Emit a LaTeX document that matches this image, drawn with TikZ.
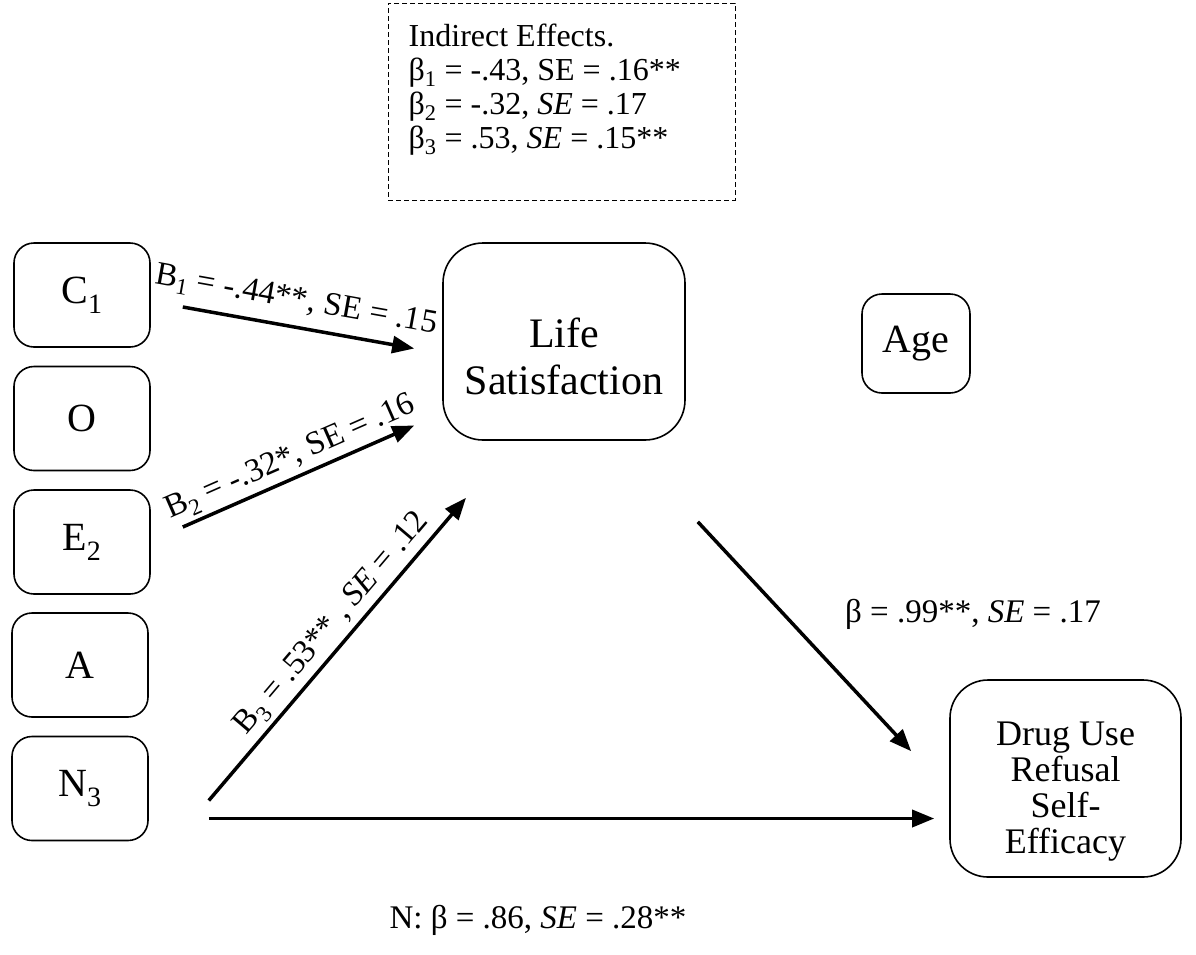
\documentclass[tikz,border=0pt]{standalone}
\usepackage{fontspec}
\setmainfont{Liberation Serif}
\usetikzlibrary{arrows.meta}
\begin{document}
\begin{tikzpicture}[x=1pt,y=-1pt,
  box/.style={draw, line width=1.6pt, align=center, inner sep=0pt, font=\fontsize{40}{44}\selectfont},
  smallbox/.style={box, rounded corners=20pt, minimum width=136pt, minimum height=104pt},
  boxtext/.style={align=center, inner sep=0pt},
  lab/.style={font=\fontsize{33}{36}\selectfont, inner sep=4pt},
  arr/.style={line width=3.5pt, -{Triangle[length=22pt,width=17pt]}}]
\useasboundingbox (0,0) rectangle (1196,954);
% indirect effects box
\node[draw, dashed, dash pattern=on 5pt off 3pt, line width=1pt, minimum width=347pt, minimum height=197pt, inner sep=0pt] (ind) at (561.5,101.5) {};
\node[anchor=north west, align=left, inner sep=0pt, font=\fontsize{32}{34}\selectfont] (indtext) at ([shift={(21,21)}]ind.north west)
  {Indirect Effects.\\ β\textsubscript{1} = -.43, SE = .16**\\ β\textsubscript{2} = -.32, \textit{SE} = .17\\ β\textsubscript{3} = .53, \textit{SE} = .15**};
% left boxes
\node[smallbox] (c1) at (82,295) {C\textsubscript{1}};
\node[smallbox] (o) at (82,418.5) {O};
\node[smallbox] (e2) at (82,542) {E\textsubscript{2}};
\node[smallbox] (a) at (80,665) {A};
\node[smallbox] (n3) at (80,788.5) {N\textsubscript{3}};
% other boxes
\node[box, rounded corners=40pt, minimum width=242pt, minimum height=197pt] (ls) at (564,341.5) {};
\node[boxtext, font=\fontsize{42}{47}\selectfont] (lstext) at ([yshift=-15pt]ls.center) {Life\\Satisfaction};
\node[box, rounded corners=20pt, minimum width=108pt, minimum height=99pt] (age) at (916,343.5) {Age};
\node[box, rounded corners=38pt, minimum width=231pt, minimum height=197pt] (dr) at (1065.5,778.5) {};
\node[boxtext, font=\fontsize{36}{36}\selectfont] (drtext) at ([yshift=-13pt]dr.center) {Drug Use\\Refusal\\Self-\\Efficacy};
% connector end points
\coordinate (c1s) at ([shift={(32,12)}]c1.east);
\coordinate (ls1) at ([shift={(-28,7)}]ls.west);
\coordinate (e2s) at ([shift={(32,-15)}]e2.east);
\coordinate (ls2) at ([shift={(-28,84)}]ls.west);
\coordinate (n3s) at ([shift={(60,12)}]n3.east);
\coordinate (ls3) at ([shift={(-98,57)}]ls.south);
\coordinate (n3h) at ([shift={(60,30)}]n3.east);
\coordinate (drh) at ([shift={(-15,40)}]dr.west);
\coordinate (lsd) at ([shift={(12,81)}]ls.south east);
\coordinate (drd) at ([shift={(-38,72)}]dr.north west);
% arrows
\draw[arr] (c1s) -- node[lab, pos=0.47, above=6pt, sloped] (b1) {B\textsubscript{1} = -.44**, SE = .15} (ls1);
\draw[arr] (e2s) -- node[lab, midway, above, sloped] (b2) {B\textsubscript{2} = -.32*, SE = .16} (ls2);
\draw[arr] (n3s) -- node[lab, pos=0.54, above, sloped] (b3) {B\textsubscript{3} = .53** , \textit{SE} = .12} (ls3);
\draw[arr] (lsd) -- (drd);
\draw[arr] (n3h) -- (drh);
% labels
\node[lab] (bls) at (973,614) {β = .99**, \textit{SE} = .17};
\node[lab] (bn) at (538,920) {N: β = .86, \textit{SE} = .28**};
\end{tikzpicture}
\end{document}
